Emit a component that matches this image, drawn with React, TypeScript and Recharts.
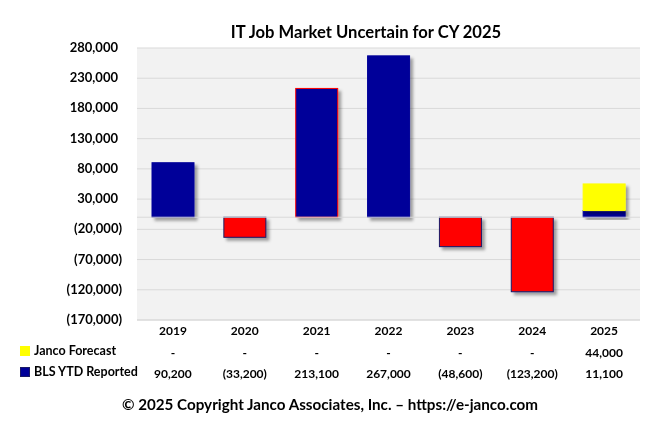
import React from "react";
import { BarChart, Bar, XAxis, YAxis, CartesianGrid, ReferenceLine, Cell } from "recharts";

const years = ["2019", "2020", "2021", "2022", "2023", "2024", "2025"];
const blsReported = [90200, -33200, 213100, 267000, -48600, -123200, 11100];
const jancoForecast: (number | null)[] = [null, null, null, null, null, null, 44000];
const yTicks = [280000, 230000, 180000, 130000, 80000, 30000, -20000, -70000, -120000, -170000];

const data = years.map((y, i) => ({ year: y, bls: blsReported[i], janco: jancoForecast[i] }));

const FONT = "Lato, 'Open Sans', sans-serif";
const BLUE = "#000099";
const RED = "#ff0000";
const YELLOW = "#ffff00";

const fmt = (v: number | null) => {
  if (v === null || v === undefined) return "-";
  const s = Math.abs(v).toLocaleString("en-US");
  return v < 0 ? `(${s})` : s;
};

const YTick = (props: any) => {
  const { y, payload } = props;
  const v = payload.value as number;
  const neg = v < 0;
  return (
    <text x={neg ? 122 : 118} y={y} dy={4} textAnchor="end" fontFamily={FONT} fontWeight={700} fontSize={13} fill="#000">
      {fmt(v)}
    </text>
  );
};

const XTick = (props: any) => {
  const { x, payload } = props;
  const i = years.indexOf(payload.value);
  return (
    <g>
      <text x={x} y={335} textAnchor="middle" fontFamily={FONT} fontWeight={700} fontSize={12} fill="#000">
        {payload.value}
      </text>
      <text x={x} y={357} textAnchor="middle" fontFamily={FONT} fontWeight={700} fontSize={12} fill="#000">
        {fmt(jancoForecast[i])}
      </text>
      <text x={x} y={378} textAnchor="middle" fontFamily={FONT} fontWeight={700} fontSize={12} fill="#000">
        {fmt(blsReported[i])}
      </text>
    </g>
  );
};

const ShadowRect = (props: any) => {
  const { x, y, width, height, fill, stroke } = props;
  if (!height || Math.abs(height) < 0.01) return null;
  const ry = height < 0 ? y + height : y;
  const h = Math.abs(height);
  return (
    <rect x={x} y={ry} width={width} height={h} fill={fill} stroke={stroke} strokeWidth={1} filter="url(#barShadow)" />
  );
};

export default function App() {
  return (
    <div style={{ position: "fixed", left: 0, top: 0, width: 655, height: 443, background: "#fff" }}>
      <svg width={0} height={0} style={{ position: "absolute" }}>
        <defs>
          <filter id="barShadow" x="-20%" y="-20%" width="150%" height="150%">
            <feDropShadow dx={3} dy={3} stdDeviation={1.5} floodColor="#000" floodOpacity={0.35} />
          </filter>
        </defs>
      </svg>
      <div
        style={{
          position: "absolute",
          left: 0,
          top: 22,
          width: 732,
          textAlign: "center",
          fontFamily: FONT,
          fontWeight: 700,
          fontSize: 16.6,
          color: "#000",
          whiteSpace: "nowrap",
        }}
      >
        IT Job Market Uncertain for CY 2025
      </div>
      <BarChart
        width={655}
        height={443}
        data={data}
        margin={{ top: 48, right: 15, bottom: 93, left: 0 }}
        barSize={42}
      >
        <CartesianGrid vertical={false} stroke="#d9d9d9" fill="#f2f2f2" />
        <YAxis
          type="number"
          domain={[-170000, 280000]}
          ticks={yTicks}
          interval={0}
          width={137}
          axisLine={false}
          tickLine={false}
          tick={<YTick />}
        />
        <XAxis
          dataKey="year"
          height={30}
          axisLine={{ stroke: "#d9d9d9" }}
          tickLine={false}
          tick={<XTick />}
          interval={0}
        />
        <ReferenceLine y={0} stroke="#d9d9d9" />
        <Bar dataKey="bls" stackId="a" isAnimationActive={false} shape={<ShadowRect />}>
          {data.map((d, i) => (
            <Cell
              key={i}
              fill={d.bls < 0 ? RED : BLUE}
              stroke={d.bls < 0 ? "#1a1a66" : d.year === "2021" ? RED : BLUE}
            />
          ))}
        </Bar>
        <Bar dataKey="janco" stackId="a" isAnimationActive={false} fill={YELLOW} stroke={YELLOW} shape={<ShadowRect />} />
      </BarChart>
      <div style={{ position: "absolute", left: 20, top: 346, width: 10, height: 10, background: YELLOW }} />
      <div
        style={{ position: "absolute", left: 34, top: 343, fontFamily: FONT, fontWeight: 700, fontSize: 12.5, color: "#000", whiteSpace: "nowrap" }}
      >
        Janco Forecast
      </div>
      <div style={{ position: "absolute", left: 20, top: 367, width: 8, height: 8, background: BLUE, border: "1px solid #1a1a66" }} />
      <div
        style={{ position: "absolute", left: 34, top: 364, fontFamily: FONT, fontWeight: 700, fontSize: 12.5, color: "#000", whiteSpace: "nowrap" }}
      >
        BLS YTD Reported
      </div>
      <div
        style={{
          position: "absolute",
          left: 0,
          top: 395,
          width: 660,
          textAlign: "center",
          fontFamily: FONT,
          fontWeight: 700,
          fontSize: 15.2,
          color: "#000",
          whiteSpace: "nowrap",
        }}
      >
        © 2025 Copyright Janco Associates, Inc. – https://e-janco.com
      </div>
    </div>
  );
}
